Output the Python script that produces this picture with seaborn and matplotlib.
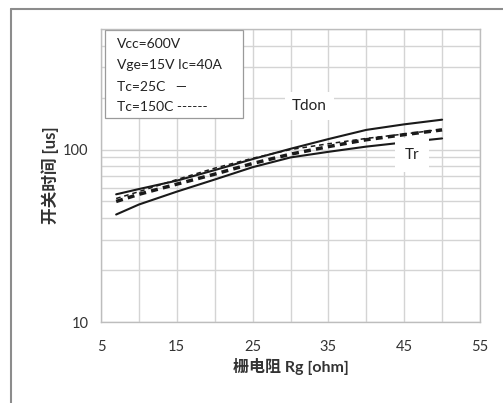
import numpy as np
import pandas as pd
import seaborn as sns
import matplotlib.pyplot as plt
from matplotlib.lines import Line2D
from matplotlib.patches import Rectangle
from matplotlib.ticker import FixedLocator, NullFormatter

# data --------------------------------------------------------------------------------
rg = [7, 10, 15, 20, 25, 30, 35, 40, 45, 50]
tdon_25 = [55, 59, 66, 76, 88, 101, 115, 130, 140, 149]
tr_25 = [42, 48, 57, 67, 79, 90, 97, 104, 110, 116]
tdon_150 = [52, 57, 67, 78, 89, 100, 108, 116, 123, 131]
tr_150 = [50, 55, 63, 72, 83, 94, 104, 114, 122, 130]

x_ticks = [5, 15, 25, 35, 45, 55]
y_ticks = [10, 100]
cond_lines = ["Vcc=600V", "Vge=15V Ic=40A", "Tc=25C   \u2014", "Tc=150C ------"]

sns.set_style("white")
plt.rcParams["font.family"] = ["Lato", "Noto Sans CJK SC", "DejaVu Sans"]

fig = plt.figure(figsize=(5.03, 4.03), dpi=100)
ax = fig.add_axes([101 / 503, 1 - 322 / 403, 379 / 503, 293 / 403])

df = pd.DataFrame({"rg": rg, "tdon_25": tdon_25, "tr_25": tr_25,
                   "tdon_150": tdon_150, "tr_150": tr_150})

# solid = 25C, dashed = 150C
sns.lineplot(data=df, x="rg", y="tdon_25", ax=ax, color="#1a1a1a", linewidth=1.5)
sns.lineplot(data=df, x="rg", y="tr_25", ax=ax, color="#1a1a1a", linewidth=1.5)
sns.lineplot(data=df, x="rg", y="tdon_150", ax=ax, color="#1a1a1a", linewidth=1.1,
             linestyle=(0, (3, 2.5)))
sns.lineplot(data=df, x="rg", y="tr_150", ax=ax, color="#1a1a1a", linewidth=2.5,
             linestyle=(0, (2, 1.5)))

ax.set_yscale("log")
ax.set_xlim(5, 55)
ax.set_ylim(10, 500)

ax.xaxis.set_major_locator(FixedLocator(x_ticks))
ax.xaxis.set_minor_locator(FixedLocator([10, 20, 30, 40, 50]))
ax.yaxis.set_major_locator(FixedLocator(y_ticks))
ax.yaxis.set_minor_locator(FixedLocator([v * d for d in (10, 100) for v in range(2, 10)]))
ax.yaxis.set_minor_formatter(NullFormatter())
ax.set_yticklabels([str(v) for v in y_ticks])

ax.grid(True, which="both", color="#d4d4d4", linewidth=1.0)
ax.set_axisbelow(True)
ax.tick_params(which="both", length=0, labelsize=10.5, colors="#333333")
ax.tick_params(axis="x", pad=13)
ax.tick_params(axis="y", pad=9)
for s in ax.spines.values():
    s.set_color("#bdbdbd")
    s.set_linewidth(1.0)

ax.set_xlabel("栅电阻 Rg [ohm]", fontsize=11.5, fontweight="bold", color="#333333", labelpad=3)
ax.set_ylabel("开关时间 [us]", fontsize=12, fontweight="bold", color="#333333", labelpad=3)

# curve labels with white boxes
ax.text(32.5, 178, "Tdon", fontsize=11, ha="center", va="center", color="#222222",
        bbox=dict(facecolor="white", edgecolor="none", pad=5))
ax.text(46, 93, "Tr", fontsize=11, ha="center", va="center", color="#222222",
        bbox=dict(facecolor="white", edgecolor="none", pad=7))

# conditions box
ax.add_patch(Rectangle((0.011, 0.696), 0.364, 0.299, transform=ax.transAxes,
                       facecolor="white", edgecolor="#9a9a9a", linewidth=0.9, zorder=2.5))
for yy, line in zip([0.949, 0.877, 0.802, 0.734], cond_lines):
    ax.text(0.042, yy, line, transform=ax.transAxes, fontsize=10, va="center",
            ha="left", color="#222222", zorder=3)

# outer frame (left and top only visible)
fig.add_artist(Line2D([11 / 503, 11 / 503], [0, 1 - 9 / 403], color="#8c8c8c", linewidth=1.5))
fig.add_artist(Line2D([11 / 503, 1], [1 - 9 / 403, 1 - 9 / 403], color="#8c8c8c", linewidth=1.5))

fig.savefig("out.png", dpi=100)
